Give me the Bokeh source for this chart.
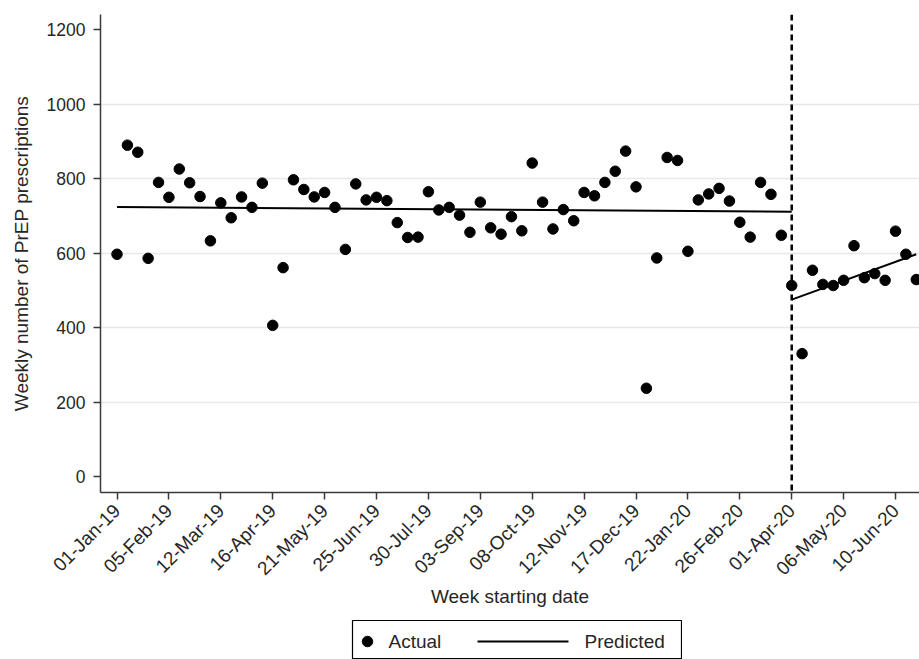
from bokeh.plotting import figure
from bokeh.models import Range1d, FixedTicker, Span, Spacer
from bokeh.layouts import column, row
from bokeh.embed import file_html
from bokeh.resources import INLINE
from bokeh.core.properties import value
import math

# ---------------- data ----------------
week_index = list(range(78))  # weeks since 01-Jan-19
actual = [597, 890, 871, 586, 790, 750, 826, 789, 752, 633,
          735, 695, 751, 723, 788, 406, 561, 797, 771, 751,
          763, 723, 610, 786, 743, 750, 741, 682, 642, 643,
          765, 716, 723, 702, 656, 737, 668, 651, 698, 660,
          842, 737, 665, 717, 687, 763, 754, 790, 820, 874,
          778, 237, 587, 857, 849, 605, 743, 759, 774, 740,
          683, 643, 790, 758, 648, 513, 330, 554, 516, 513,
          527, 620, 534, 545, 527, 659, 597, 529]

pred_pre_weeks = [0, 65]
pred_pre = [724, 711]
pred_post_weeks = [65, 77]
pred_post = [475, 597]
interruption_week = 65

tick_weeks = [0, 5, 10, 15, 20, 25, 30, 35, 40, 45, 50, 55, 60, 65, 70, 75]
tick_labels = ["01-Jan-19", "05-Feb-19", "12-Mar-19", "16-Apr-19", "21-May-19",
               "25-Jun-19", "30-Jul-19", "03-Sep-19", "08-Oct-19", "12-Nov-19",
               "17-Dec-19", "22-Jan-20", "26-Feb-20", "01-Apr-20", "06-May-20",
               "10-Jun-20"]
y_ticks = [0, 200, 400, 600, 800, 1000, 1200]
y_grid = [200, 400, 600, 800, 1000]

FONT = "Liberation Sans"
TXT = "#262626"
AX = "#3a3a3a"

p = figure(width=919, height=619, output_backend="svg", toolbar_location=None,
           x_range=Range1d(-1.59, 77.31), y_range=Range1d(-43, 1241),
           min_border_left=100, min_border_right=0, min_border_top=14,
           min_border_bottom=127)
p.outline_line_color = None
p.background_fill_color = "white"
p.border_fill_color = "white"

p.xgrid.visible = False
p.ygrid.ticker = FixedTicker(ticks=y_grid)
p.ygrid.grid_line_color = "#e8e8e8"
p.ygrid.grid_line_width = 1.5

p.yaxis.ticker = FixedTicker(ticks=y_ticks)
p.xaxis.ticker = FixedTicker(ticks=tick_weeks)
p.xaxis.major_label_overrides = {w: l for w, l in zip(tick_weeks, tick_labels)}
p.xaxis.major_label_orientation = math.pi / 4

for ax in (p.xaxis[0], p.yaxis[0]):
    ax.axis_line_color = AX
    ax.axis_line_width = 1.5
    ax.major_tick_line_color = AX
    ax.major_tick_line_width = 1.5
    ax.major_tick_in = 0
    ax.major_tick_out = 7
    ax.minor_tick_line_color = None
    ax.major_label_text_font = FONT
    ax.major_label_text_color = TXT
    ax.axis_label_text_font = FONT
    ax.axis_label_text_font_size = "19px"
    ax.axis_label_text_font_style = "normal"
    ax.axis_label_text_color = TXT

p.yaxis.major_label_text_font_size = "17.5px"
p.xaxis.major_label_text_font_size = "19px"
p.yaxis.major_label_standoff = 8
p.yaxis.axis_label_standoff = 12
p.yaxis.axis_label = "Weekly number of PrEP prescriptions"
p.xaxis.major_label_standoff = 8
p.xaxis.axis_label_standoff = -4
p.xaxis.axis_label = "Week starting date"

p.add_layout(Span(location=interruption_week, dimension="height",
                  line_color="black", line_width=2.5, line_dash="6 4"))

p.line(pred_pre_weeks, pred_pre, line_color="black", line_width=2)
p.line(pred_post_weeks, pred_post, line_color="black", line_width=2)
p.scatter(week_index, actual, size=10.5, color="black")

# ---------------- legend box ----------------
leg = figure(width=331, height=40, output_backend="svg", toolbar_location=None,
             x_range=Range1d(0, 329), y_range=Range1d(0, 39),
             min_border_left=1, min_border_right=1, min_border_top=1,
             min_border_bottom=0)
leg.axis.visible = False
leg.grid.visible = False
leg.outline_line_color = "black"
leg.outline_line_width = 1.2
leg.scatter([15], [18], size=10.5, color="black")
leg.text([36], [18], text=["Actual"], text_font=value(FONT),
         text_font_size="19px", text_baseline="middle", text_color=TXT)
leg.line([125, 216], [18, 18], line_color="black", line_width=2)
leg.text([232], [18], text=["Predicted"], text_font=value(FONT),
         text_font_size="19px", text_baseline="middle", text_color=TXT)

layout = column(p, row(Spacer(width=351, height=40), leg))

open("out.html", "w").write(file_html(layout, INLINE))
